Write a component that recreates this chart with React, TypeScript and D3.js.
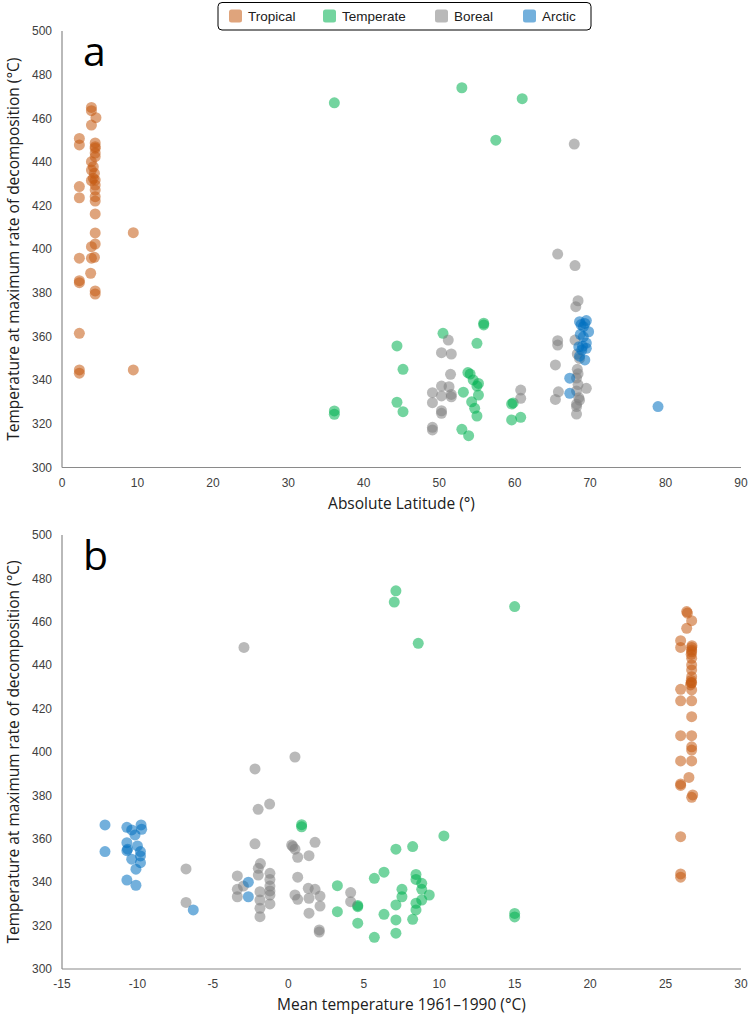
import React from "react";
import * as d3 from "d3";

// ---------- DATA ----------
// Panel a: [absolute latitude (°), temperature at max decomposition (°C)]
const tropicalA: [number, number][] = [
  [3.9, 465], [3.9, 463.5], [4.5, 460.3], [3.9, 456.9], [2.3, 450.8], [2.3, 447.8],
  [4.4, 448.7], [4.4, 447], [4.4, 446.3], [4.4, 444.1], [4.4, 442.4], [3.9, 440.1],
  [4.15, 437.8], [3.9, 436.3], [4.3, 434.8], [4.15, 432.5], [4.4, 431.7], [4.4, 429.4],
  [3.9, 431.5], [2.3, 428.7], [2.3, 423.6], [4.4, 427.1], [4.4, 424.1], [4.4, 422.1],
  [4.4, 416.2], [4.4, 407.5], [9.45, 407.6], [3.9, 401.2], [4.4, 402.4], [2.3, 395.9],
  [3.9, 395.9], [4.3, 396.3], [2.3, 385.6], [2.3, 384.7], [3.8, 389], [4.4, 380.9],
  [4.4, 379.5], [2.3, 361.5], [2.3, 344.7], [2.3, 343.2], [9.45, 344.7],
];
const temperateA: [number, number][] = [
  [36.1, 467.1], [53.0, 474], [57.5, 450], [61.0, 469], [55.9, 366.1], [55.9, 365.3],
  [50.5, 361.5], [44.4, 355.7], [55.0, 356.9], [45.2, 345], [54.1, 342.8], [53.8, 343.5],
  [54.5, 340.1], [55, 337.3], [55.2, 338.5], [55.2, 333.2], [53.2, 334.5], [54.3, 330.1],
  [54.7, 327.1], [55, 323.6], [44.4, 329.9], [45.2, 325.6], [36.1, 325.9], [36.1, 324.4],
  [59.6, 329.1], [59.8, 329.6], [59.6, 321.8], [60.8, 323], [53, 317.5], [53.9, 314.6],
];
const borealA: [number, number][] = [
  [67.9, 448.2], [65.7, 397.8], [68, 392.5], [68.4, 376.4], [68.1, 373.7], [65.7, 358.1],
  [65.7, 356.1], [68, 358.4], [65.4, 347], [68.3, 345], [68.2, 341], [68.4, 338],
  [68.2, 335], [68.5, 332], [68.2, 329], [69.5, 336.3], [65.8, 334.7], [65.4, 331.2],
  [68.2, 327.9], [68.2, 324.5], [68.6, 330.9], [68.4, 343], [68.6, 350], [68.3, 352],
  [51.2, 358.4], [50.3, 352.6], [51.6, 352], [51.5, 342.7], [50.3, 337.3], [51.3, 337],
  [49.1, 334.3], [50.3, 332.8], [51.6, 332.4], [51.6, 333.5], [49.1, 329.7], [50.3, 326],
  [50.3, 324.8], [49.1, 318.4], [49.1, 317.2], [60.8, 335.5], [60.8, 331.7],
];
const arcticA: [number, number][] = [
  [68.6, 366.8], [69.5, 367.3], [69.1, 364.5], [69.8, 362.2], [69.1, 359.9], [68.5, 355.3],
  [69.5, 354.6], [68.9, 353.8], [69.3, 349.3], [68.8, 365.5], [69.3, 366], [68.7, 361],
  [69.5, 357], [68.6, 351], [69, 355.5], [67.3, 340.9], [67.3, 334], [79.0, 327.9],
];

// Panel b: [mean temperature 1961–1990 (°C), temperature at max decomposition (°C)]
const tropicalB: [number, number][] = [
  [26.4, 464.7], [26.45, 464], [26.73, 460.5], [26.4, 457], [26.0, 451.3], [26.0, 448.2],
  [26.73, 448.2], [26.75, 449], [26.73, 447], [26.73, 446.2], [26.7, 445], [26.73, 443.2],
  [26.73, 440.1], [26.73, 437.8], [26.73, 434.7], [26.7, 433], [26.7, 432], [26.73, 431.9],
  [26.65, 430.9], [26.73, 428.6], [26.0, 428.9], [26.0, 423.6], [26.73, 423.6], [26.73, 416.3],
  [26.0, 407.5], [26.73, 407.5], [26.73, 402.4], [26.73, 400.9], [26.0, 395.9], [26.73, 395.9],
  [26.55, 388.3], [26.0, 385.3], [26.0, 384.6], [26.8, 380.2], [26.73, 379.1], [26.0, 361],
  [26.0, 343.8], [26.0, 342.3],
];
const temperateB: [number, number][] = [
  [7.13, 474.3], [7.02, 469.1], [8.61, 450.1], [15.0, 467], [15.0, 325.6], [15.0, 324],
  [0.88, 366.5], [0.88, 365.5], [10.31, 361.3], [7.13, 355.2], [8.24, 356.4], [6.34, 344.6],
  [5.7, 341.8], [8.46, 343.6], [8.46, 341.3], [8.84, 339.5], [8.84, 336.7], [9.34, 334.1],
  [7.53, 336.7], [7.53, 333.3], [3.25, 338.4], [3.25, 326.4], [4.6, 328.7], [4.6, 329.3],
  [4.6, 321.1], [5.7, 314.6], [6.34, 325.2], [7.13, 329.5], [7.13, 322.6], [7.13, 316.5],
  [8.46, 330.3], [8.46, 327.2], [8.24, 322.9], [8.84, 331.8],
];
const borealB: [number, number][] = [
  [-2.94, 448.2], [-6.78, 346.1], [-6.78, 330.7], [-2.21, 392.2], [-2.0, 373.6], [-1.24, 376],
  [0.44, 397.7], [-2.21, 357.7], [0.22, 357.1], [0.44, 355.2], [1.77, 358.4], [0.62, 351.5],
  [1.37, 352.2], [-1.85, 348.6], [-1.99, 346.4], [-1.99, 343.3], [-3.38, 342.9], [-1.22, 344.1],
  [-1.22, 341.3], [-1.22, 338.2], [-1.22, 334.1], [-1.22, 330], [0.62, 342.3], [-3.38, 336.7],
  [-3.38, 333.3], [-2.98, 338.2], [-1.88, 335.6], [-1.88, 331.8], [-1.88, 328], [-1.88, 324.1],
  [0.44, 334.1], [0.62, 332.1], [1.32, 337.2], [1.77, 336.7], [2.1, 333.6], [1.37, 332.6],
  [2.1, 329], [1.37, 325.7], [2.05, 318], [2.05, 317], [4.13, 335.2], [4.13, 331],
  [0.3, 356.5], [-1.22, 336],
];
const arcticB: [number, number][] = [
  [-12.15, 366.4], [-12.15, 354.1], [-10.7, 365.3], [-9.76, 366.4], [-9.72, 364.4], [-10.38, 364.1],
  [-10.16, 361.8], [-10.7, 358.2], [-10.0, 356.7], [-10.7, 354.5], [-10.65, 355.2], [-9.8, 354.1],
  [-9.8, 352.1], [-10.38, 350.6], [-9.8, 349], [-10.1, 346], [-10.7, 341], [-10.1, 338.6],
  [-6.3, 327.2], [-2.65, 340], [-2.65, 333.3],
];

const categories = ["Tropical", "Temperate", "Boreal", "Arctic"];
const colors = ["#C55A11", "#00B050", "#808080", "#0070C0"];

const yTicks = [300, 320, 340, 360, 380, 400, 420, 440, 460, 480, 500];
const xTicksA = [0, 10, 20, 30, 40, 50, 60, 70, 80, 90];
const xTicksB = [-15, -10, -5, 0, 5, 10, 15, 20, 25, 30];

const yTitle = "Temperature at maximum rate of decomposition (°C)";
const xTitleA = "Absolute Latitude (°)";
const xTitleB = "Mean temperature 1961–1990 (°C)";

const seriesA = [tropicalA, temperateA, borealA, arcticA];
const seriesB = [tropicalB, temperateB, borealB, arcticB];

const TICK_FONT = "'Liberation Sans', Arial, sans-serif";
const TITLE_FONT = "'Open Sans', 'Noto Sans', sans-serif";
const ALPHA = 0.55;
const R = 5.5;

type PanelProps = {
  series: [number, number][][];
  xDomain: [number, number];
  xTicks: number[];
  top: number;
  bottom: number;
  letter: string;
  xTitle: string;
};

function Panel({ series, xDomain, xTicks, top, bottom, letter, xTitle }: PanelProps) {
  const left = 62;
  const right = 741;
  const x = d3.scaleLinear().domain(xDomain).range([left, right]);
  const y = d3.scaleLinear().domain([300, 500]).range([bottom, top]);
  const mid = (top + bottom) / 2;
  return (
    <g>
      {/* axes */}
      <line x1={left} x2={left} y1={top} y2={bottom} stroke="#8a8a8a" strokeWidth={1.2} />
      <line x1={left} x2={right} y1={bottom} y2={bottom} stroke="#8a8a8a" strokeWidth={1.2} />
      {yTicks.map((t) => (
        <text key={"y" + t} x={52} y={y(t)} dy="0.35em" textAnchor="end"
          fontFamily={TICK_FONT} fontSize={12} fill="#404040">{t}</text>
      ))}
      {xTicks.map((t) => (
        <text key={"x" + t} x={x(t)} y={bottom + 19} textAnchor="middle"
          fontFamily={TICK_FONT} fontSize={12} fill="#404040">{t}</text>
      ))}
      <text x={(left + right) / 2} y={bottom + 41} textAnchor="middle"
        fontFamily={TITLE_FONT} fontSize={15.5} fill="#202020">{xTitle}</text>
      <text transform={`translate(19,${mid}) rotate(-90)`} textAnchor="middle"
        fontFamily={TITLE_FONT} fontSize={15.5} fill="#202020">{yTitle}</text>
      <text x={83} y={top + 35} fontFamily={TITLE_FONT} fontSize={41} fill="#000">{letter}</text>
      {/* points */}
      {series.map((pts, si) => (
        <g key={si} fill={colors[si]} fillOpacity={ALPHA}>
          {pts.map((p, i) => (
            <circle key={i} cx={x(p[0])} cy={y(p[1])} r={R} />
          ))}
        </g>
      ))}
    </g>
  );
}

function Legend() {
  const itemX = [229, 323, 435, 523];
  return (
    <g>
      <rect x={218} y={2.5} width={373} height={27.5} rx={4} fill="#fff" stroke="#000" strokeWidth={1} />
      {categories.map((c, i) => (
        <g key={c}>
          <rect x={itemX[i]} y={9.5} width={13} height={13} rx={2.5}
            fill={colors[i]} fillOpacity={ALPHA} />
          <text x={itemX[i] + 19} y={16.5} dy="0.35em" fontFamily={TICK_FONT}
            fontSize={13.5} fill="#202020">{c}</text>
        </g>
      ))}
    </g>
  );
}

export default function App() {
  return (
    <svg width={750} height={1017} viewBox="0 0 750 1017"
      style={{ position: "absolute", left: 0, top: 0, background: "#fff" }}>
      <rect width={750} height={1017} fill="#fff" />
      <Panel series={seriesA} xDomain={[0, 90]} xTicks={xTicksA} top={31} bottom={467.5}
        letter="a" xTitle={xTitleA} />
      <Panel series={seriesB} xDomain={[-15, 30]} xTicks={xTicksB} top={535} bottom={969}
        letter="b" xTitle={xTitleB} />
      <Legend />
    </svg>
  );
}
